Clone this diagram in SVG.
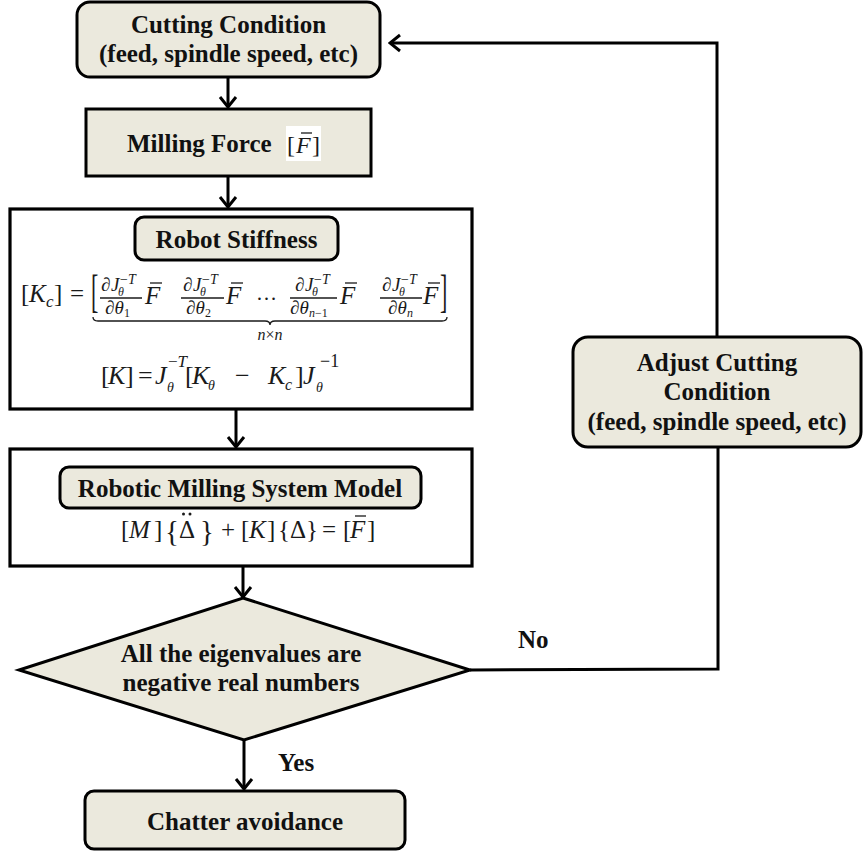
<svg xmlns="http://www.w3.org/2000/svg" xmlns:xlink="http://www.w3.org/1999/xlink" width="863" height="856" viewBox="0 0 863 856">
  <style>
    .node { fill: #ebe9dd; stroke: #000; stroke-width: 3; }
    .frame { fill: #fff; stroke: #000; stroke-width: 3.2; }
    text { font-family: 'Liberation Serif', 'Times New Roman', Times, serif; }
    .lbl { font-weight: bold; font-size: 25px; fill: #111; text-anchor: middle; }
    .tag { font-weight: bold; font-size: 25px; fill: #111; }
    .mi { font-style: italic; fill: #1a1a1a; }
    .mu { font-style: normal; fill: #1a1a1a; }
    .rule { stroke: #1a1a1a; stroke-width: 1.3; fill: none; }
    .wire { fill: none; stroke: #000; stroke-width: 3; }
  </style>
  <defs>
    <marker id="head" viewBox="0 0 14 20" refX="12" refY="10" markerWidth="14" markerHeight="20" markerUnits="userSpaceOnUse" orient="auto">
      <path d="M2,2 L12,10 L2,18" fill="none" stroke="#000" stroke-width="3"/>
    </marker>
    <!-- numerator of the partial derivative: dJ_theta^-T -->
    <text id="num" class="mi" font-size="19" y="291"><tspan x="0">∂</tspan><tspan x="10">J</tspan><tspan x="17" y="295.5" font-size="12">θ</tspan><tspan x="19" y="284" font-size="14" class="mu">−</tspan><tspan font-size="14">T</tspan></text>
    <!-- force vector F with bar -->
    <g id="fbar">
      <text class="mi" x="0" y="304" font-size="25">F</text>
      <line class="rule" x1="5" y1="283" x2="17" y2="283"/>
    </g>
  </defs>

  <!-- connectors -->
  <g id="connectors">
    <line class="wire" x1="228" y1="77" x2="228" y2="107" marker-end="url(#head)"/>
    <line class="wire" x1="228" y1="176" x2="228" y2="207" marker-end="url(#head)"/>
    <line class="wire" x1="236" y1="409" x2="236" y2="447" marker-end="url(#head)"/>
    <line class="wire" x1="243" y1="566" x2="243" y2="597" marker-end="url(#head)"/>
    <line class="wire" x1="244" y1="740" x2="244" y2="789" marker-end="url(#head)"/>
    <polyline class="wire" points="470,670 718,669 718,447"/>
    <polyline class="wire" points="717,337 717,43 390,43" marker-end="url(#head)"/>
    <text class="tag" x="278" y="771">Yes</text>
    <text class="tag" x="518" y="648">No</text>
  </g>

  <!-- cutting condition -->
  <g id="cutting-condition">
    <rect class="node" x="77" y="2" width="303" height="75" rx="13"/>
    <text class="lbl" x="228.5" y="33">Cutting Condition</text>
    <text class="lbl" x="228.5" y="62">(feed, spindle speed, etc)</text>
  </g>

  <!-- milling force -->
  <g id="milling-force">
    <rect class="node" x="86" y="109" width="285" height="67"/>
    <text class="tag" x="127" y="152">Milling Force</text>
    <rect x="286" y="126" width="35" height="35" fill="#fff"/>
    <text class="mu" y="153" font-size="24"><tspan x="287">[</tspan><tspan class="mi" x="296">F</tspan><tspan x="312">]</tspan></text>
    <line class="rule" x1="301" y1="133" x2="312" y2="133"/>
  </g>

  <!-- robot stiffness -->
  <g id="robot-stiffness">
    <rect class="frame" x="10" y="209" width="462" height="200"/>
    <rect class="node" x="135" y="217" width="203" height="43" rx="9"/>
    <text class="lbl" x="236.5" y="248">Robot Stiffness</text>

    <!-- [Kc] = [ ... ] -->
    <text class="mu" y="302" font-size="25"><tspan x="21">[</tspan><tspan class="mi" x="29">K</tspan><tspan class="mi" x="46" y="307" font-size="17">c</tspan><tspan x="54" y="302">]</tspan><tspan x="70">=</tspan></text>
    <text class="mu" font-size="22" transform="translate(91,306.5) scale(1,2.1)">[</text>
    <text class="mu" font-size="22" transform="translate(440,306.5) scale(1,2.1)">]</text>

    <use xlink:href="#num" x="101"/>
    <line class="rule" x1="100" y1="298" x2="142" y2="298"/>
    <text class="mi" y="314" font-size="19"><tspan x="105">∂θ</tspan><tspan class="mu" x="124" y="317" font-size="12">1</tspan></text>
    <use xlink:href="#fbar" x="145"/>

    <use xlink:href="#num" x="183"/>
    <line class="rule" x1="181" y1="298" x2="224" y2="298"/>
    <text class="mi" y="314" font-size="19"><tspan x="186">∂θ</tspan><tspan class="mu" x="205" y="317" font-size="12">2</tspan></text>
    <use xlink:href="#fbar" x="226"/>

    <text class="mu" x="256" y="300" font-size="21">…</text>

    <use xlink:href="#num" x="295"/>
    <line class="rule" x1="290" y1="298" x2="337" y2="298"/>
    <text class="mi" y="314" font-size="19"><tspan x="290">∂θ</tspan><tspan x="309" y="317" font-size="12">n</tspan><tspan class="mu" font-size="12">−1</tspan></text>
    <use xlink:href="#fbar" x="340"/>

    <use xlink:href="#num" x="382"/>
    <line class="rule" x1="380" y1="298" x2="422" y2="298"/>
    <text class="mi" y="314" font-size="19"><tspan x="388">∂θ</tspan><tspan x="407" y="317" font-size="12">n</tspan></text>
    <use xlink:href="#fbar" x="423"/>

    <path class="rule" d="M93,317 Q93,321 98,321 L265,321 Q270,321 270,325 Q270,321 275,321 L442,321 Q447,321 447,317"/>
    <text class="mi" x="270" y="340" font-size="16" text-anchor="middle">n<tspan class="mu">×</tspan>n</text>

    <!-- [K] = J^-T [Ktheta - Kc] J^-1 -->
    <text class="mu" y="384" font-size="26"><tspan x="101">[</tspan><tspan class="mi" x="108">K</tspan><tspan x="125">]</tspan><tspan x="138">=</tspan><tspan class="mi" x="155">J</tspan><tspan x="168" y="367" font-size="17">−</tspan><tspan class="mi" font-size="17">T</tspan><tspan class="mi" x="167" y="392" font-size="14">θ</tspan><tspan x="185" y="384">[</tspan><tspan class="mi" x="192">K</tspan><tspan class="mi" x="208" y="390" font-size="14">θ</tspan><tspan x="235" y="384">−</tspan><tspan class="mi" x="268">K</tspan><tspan class="mi" x="285" y="390" font-size="16">c</tspan><tspan x="295" y="384">]</tspan><tspan class="mi" x="303">J</tspan><tspan x="320" y="367" font-size="18">−1</tspan><tspan class="mi" x="316" y="392" font-size="14">θ</tspan></text>
  </g>

  <!-- robotic milling system model -->
  <g id="system-model">
    <rect class="frame" x="10" y="449" width="462" height="117"/>
    <rect class="node" x="60" y="467" width="361" height="41" rx="9"/>
    <text class="lbl" x="240" y="497">Robotic Milling System Model</text>

    <text class="mu" y="538" font-size="25"><tspan x="121">[</tspan><tspan class="mi" x="129">M</tspan><tspan x="154">]</tspan><tspan x="165" y="541" font-size="29">{</tspan><tspan x="179" y="538">Δ</tspan><tspan x="200" y="541" font-size="29">}</tspan><tspan x="221" y="538">+</tspan><tspan x="241">[</tspan><tspan class="mi" x="249">K</tspan><tspan x="267">]</tspan><tspan x="278">{</tspan><tspan x="290">Δ</tspan><tspan x="306">}</tspan><tspan x="322">=</tspan><tspan x="343">[</tspan><tspan class="mi" x="350">F</tspan><tspan x="367">]</tspan></text>
    <circle cx="183.5" cy="514" r="1.5" fill="#1a1a1a"/>
    <circle cx="190" cy="514" r="1.5" fill="#1a1a1a"/>
    <line class="rule" x1="355" y1="516" x2="366" y2="516"/>
  </g>

  <!-- eigenvalue decision -->
  <g id="eigen-check">
    <polygon class="node" points="243,598 470,670 244,740 19,670"/>
    <text class="lbl" x="241" y="662">All the eigenvalues are</text>
    <text class="lbl" x="241" y="691">negative real numbers</text>
  </g>

  <!-- chatter avoidance -->
  <g id="chatter-avoidance">
    <rect class="node" x="85" y="791" width="320" height="58" rx="9"/>
    <text class="lbl" x="245" y="830">Chatter avoidance</text>
  </g>

  <!-- adjust cutting condition -->
  <g id="adjust-condition">
    <rect class="node" x="573" y="337" width="288" height="110" rx="15"/>
    <text class="lbl" x="717" y="371">Adjust Cutting</text>
    <text class="lbl" x="717" y="400">Condition</text>
    <text class="lbl" x="717" y="430">(feed, spindle speed, etc)</text>
  </g>
</svg>
